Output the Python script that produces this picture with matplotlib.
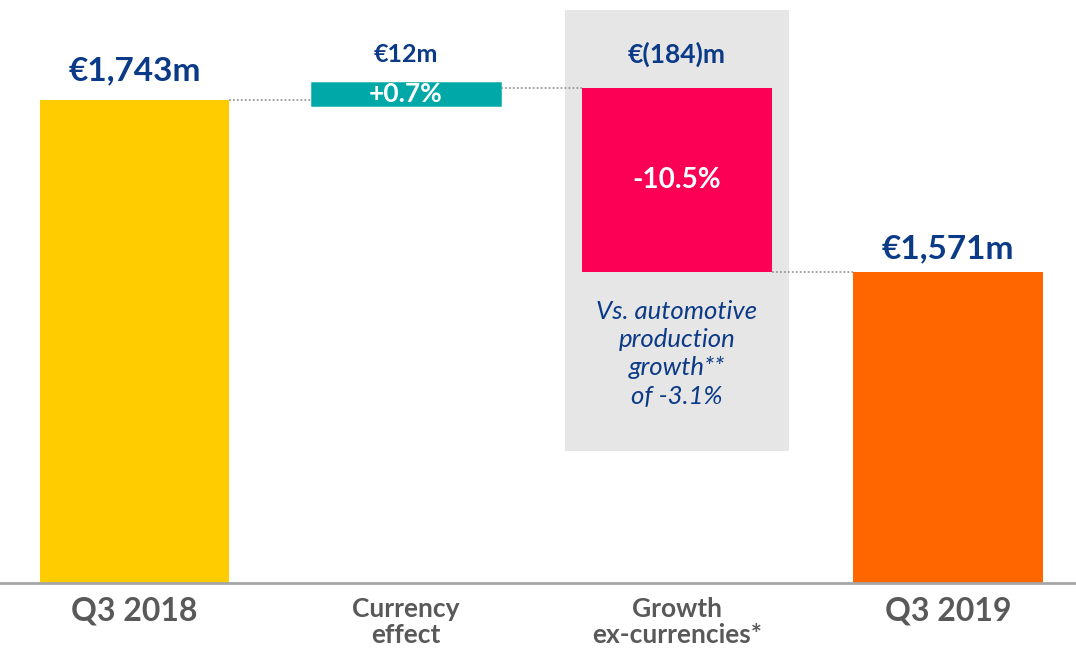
import matplotlib
matplotlib.use("Agg")
import matplotlib.pyplot as plt
from matplotlib.patches import Rectangle

# ---- data ----
categories = ["Q3 2018", "Currency\neffect", "Growth\nex-currencies*", "Q3 2019"]
start_value = 1743
changes = [12, -184]
end_value = 1571
value_labels = ["€1,743m", "€12m", "€(184)m", "€1,571m"]
pct_labels = ["", "+0.7%", "-10.5%", ""]
note_text = "Vs. automotive\nproduction\ngrowth**\nof -3.1%"

# ---- styles ----
colors = ["#FFCC00", "#00A9A7", "#FC0055", "#FF6600"]
navy = "#0B3A87"
grey_txt = "#595959"
FONT = "Lato"

fig = plt.figure(figsize=(10.76, 6.54), dpi=100)
ax = fig.add_axes([0, 71 / 654, 1, 583 / 654])
ax.set_xlim(-0.496, 3.4716)
ax.set_ylim(1260, 1843)
ax.axis("off")

x = [0, 1, 2, 3]
w = 0.70

# waterfall geometry
bottoms = [ax.get_ylim()[0], start_value, start_value + changes[0] + changes[1], ax.get_ylim()[0]]
heights = [start_value - bottoms[0], changes[0], -changes[1], end_value - bottoms[3]]
tops = [b + h for b, h in zip(bottoms, heights)]

# grey highlight box behind growth bar
ax.add_patch(Rectangle((2 - 0.413, 1392), 0.826, 1833 - 1392, facecolor="#E6E6E6",
                       edgecolor="none", zorder=0))

for i in range(4):
    if i == 1:
        ax.bar(x[i], heights[i], bottom=bottoms[i], width=w - 0.045, color=colors[i],
               edgecolor=colors[i], linewidth=9, zorder=2)
    else:
        ax.bar(x[i], heights[i], bottom=bottoms[i], width=w, color=colors[i],
               edgecolor="none", zorder=2)

# connectors
conn = [(0, tops[0]), (1, tops[1]), (2, bottoms[2])]
for i, yv in conn:
    ax.plot([x[i] + w / 2, x[i + 1] - w / 2], [yv, yv], color="#9A9A9A", lw=1.3,
            ls=(0, (1, 1.2)), zorder=1)

# baseline
ax.axhline(ax.get_ylim()[0], color="#A6A6A6", lw=2, zorder=3, clip_on=False)

# value labels
ax.annotate(value_labels[0], (x[0], tops[0]), xytext=(0, 21), textcoords="offset points",
            ha="center", va="center", fontsize=24, fontweight="bold", color=navy, family=FONT)
ax.annotate(value_labels[1], (x[1], tops[1]), xytext=(0, 24), textcoords="offset points",
            ha="center", va="center", fontsize=18, fontweight="bold", color=navy, family=FONT)
ax.annotate(value_labels[2], (x[2], tops[2]), xytext=(0, 24), textcoords="offset points",
            ha="center", va="center", fontsize=19, fontweight="bold", color=navy, family=FONT)
ax.annotate(value_labels[3], (x[3], tops[3]), xytext=(0, 17), textcoords="offset points",
            ha="center", va="center", fontsize=24, fontweight="bold", color=navy, family=FONT)

# percentage labels inside bars
ax.text(x[1], bottoms[1] + heights[1] / 2, pct_labels[1], ha="center", va="center",
        fontsize=19, fontweight="bold", color="white", family=FONT, zorder=4)
ax.text(x[2], bottoms[2] + heights[2] / 2, pct_labels[2], ha="center", va="center",
        fontsize=20, fontweight="bold", color="white", family=FONT, zorder=4)

# note
ax.annotate(note_text, (x[2], bottoms[2]), xytext=(0, -20), textcoords="offset points",
            ha="center", va="top", fontsize=18.5, style="italic", color=navy, family=FONT,
            linespacing=1.28)

# category labels
for i, c in enumerate(categories):
    big = (i in (0, 3))
    ax.annotate(c, (x[i], ax.get_ylim()[0]), xytext=(0, -10), textcoords="offset points",
                ha="center", va="top", fontsize=23 if big else 19, fontweight="bold",
                color=grey_txt, family=FONT, linespacing=1.12, annotation_clip=False)

fig.savefig("out.png", dpi=100)
